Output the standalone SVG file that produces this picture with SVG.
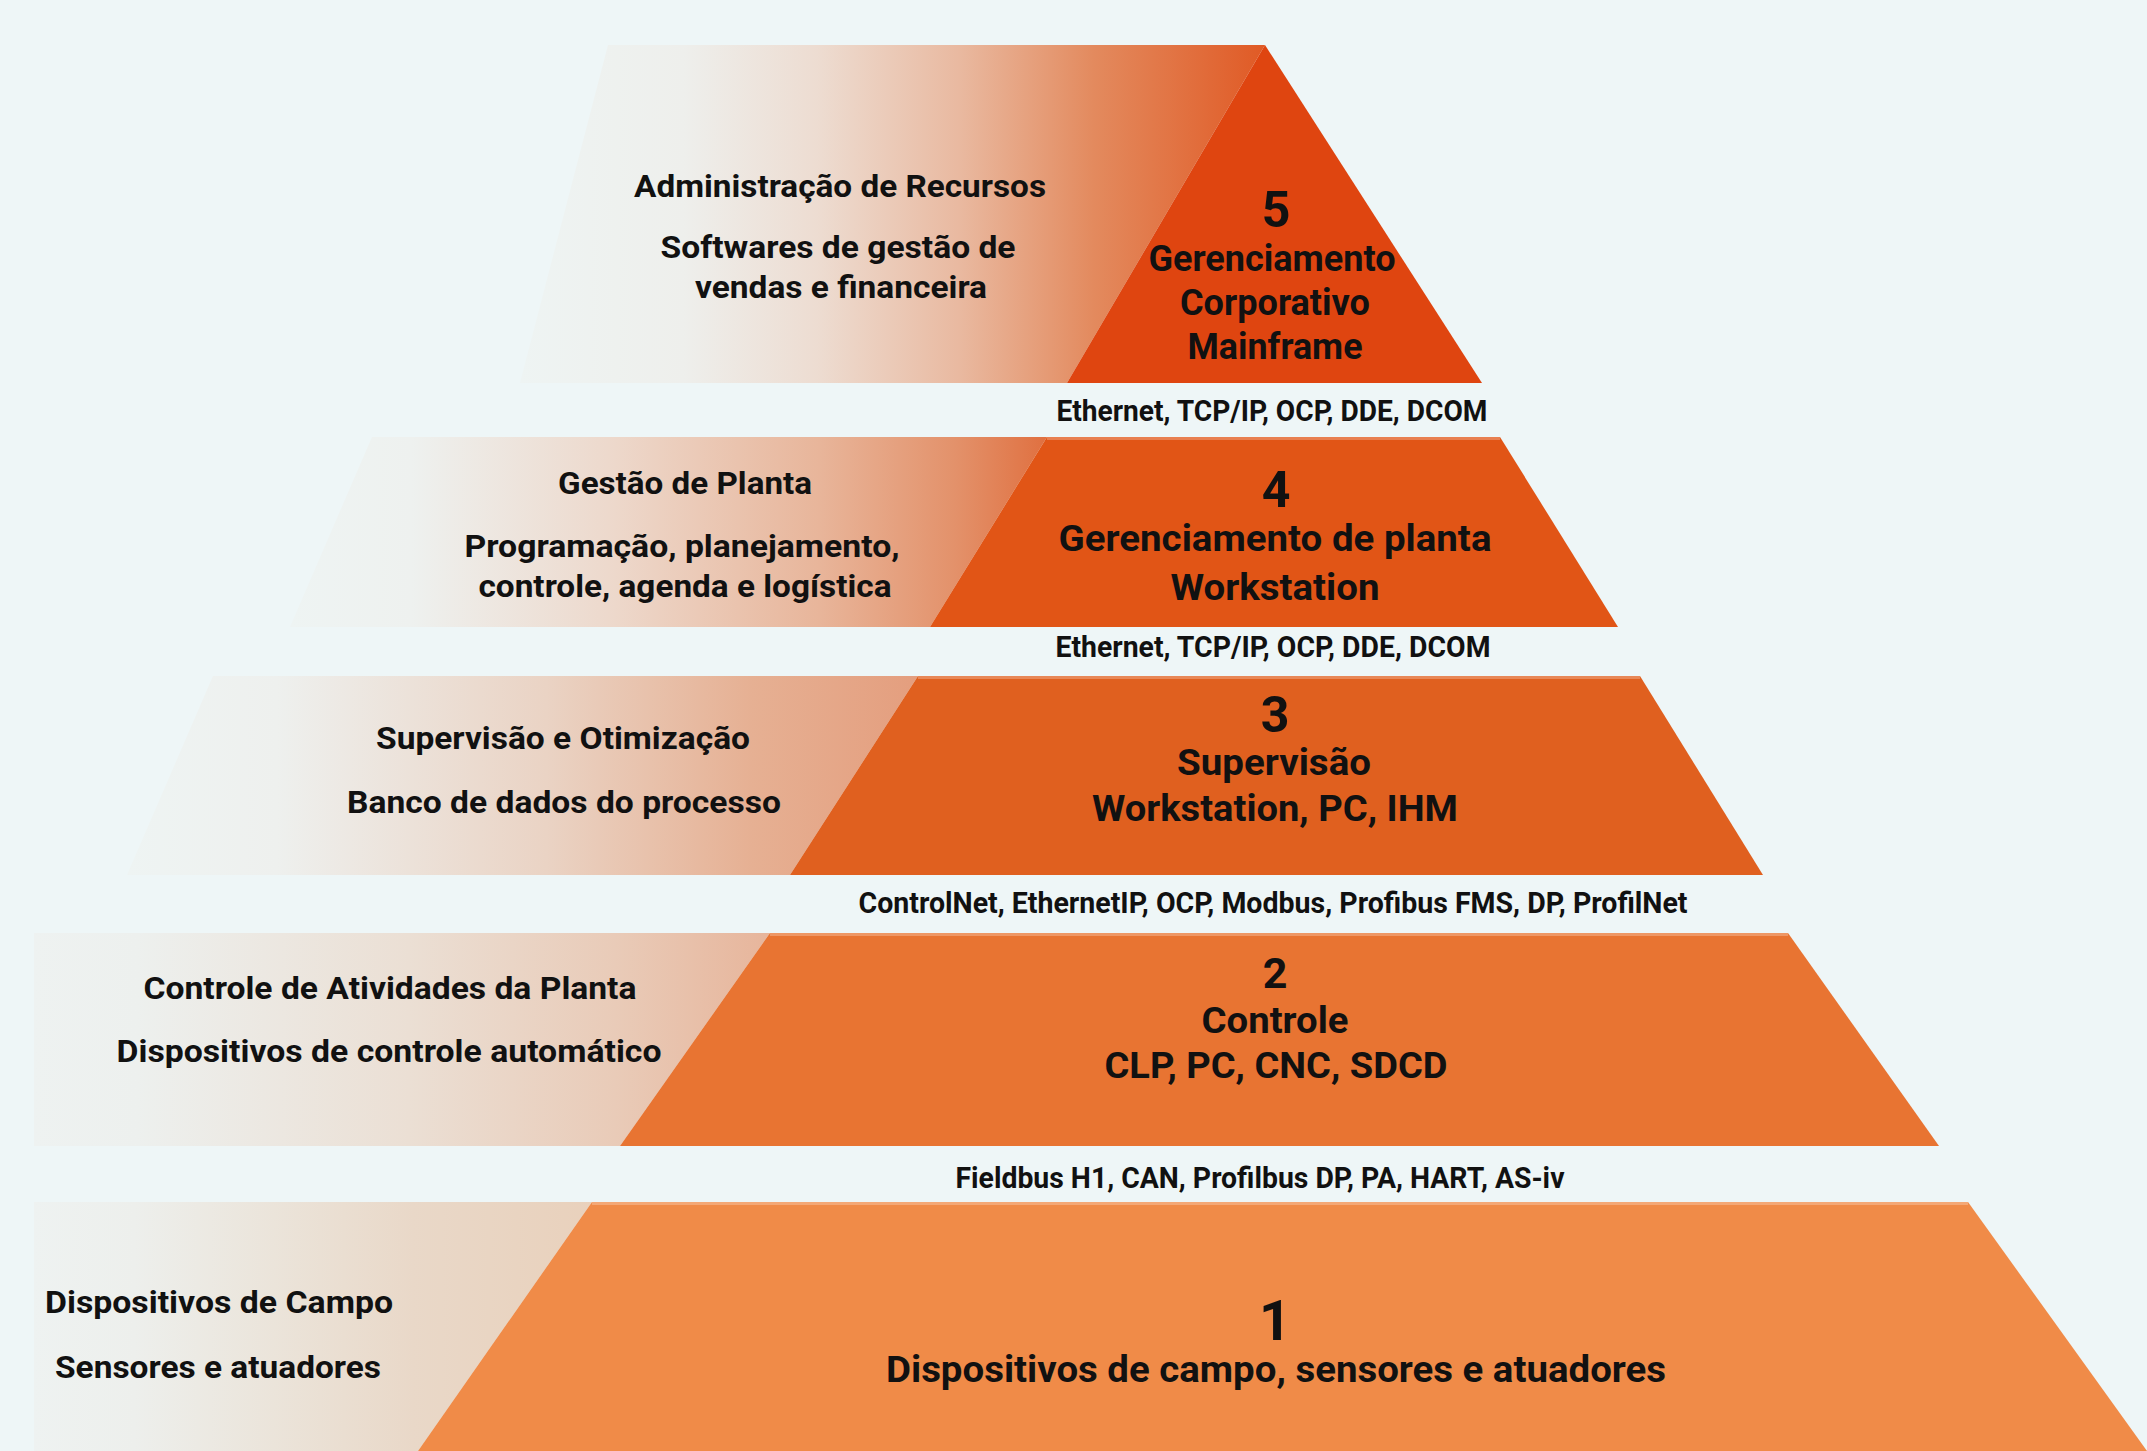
<svg xmlns="http://www.w3.org/2000/svg" width="2147" height="1451" viewBox="0 0 2147 1451">
<defs>
<linearGradient id="g5" gradientUnits="userSpaceOnUse" x1="520" y1="0" x2="1265" y2="0">
<stop offset="0" stop-color="#eef4f3"/><stop offset="0.22" stop-color="#eeefec"/><stop offset="0.40" stop-color="#eddcd1"/><stop offset="0.59" stop-color="#e9b9a0"/><stop offset="0.77" stop-color="#e38a5e"/><stop offset="1" stop-color="#e05a25"/>
</linearGradient>
<linearGradient id="g4" gradientUnits="userSpaceOnUse" x1="290" y1="0" x2="1047" y2="0">
<stop offset="0" stop-color="#eef4f3"/><stop offset="0.16" stop-color="#eef1ef"/><stop offset="0.43" stop-color="#edd8cb"/><stop offset="0.70" stop-color="#e8b59a"/><stop offset="0.88" stop-color="#e3916a"/><stop offset="1" stop-color="#e07040"/>
</linearGradient>
<linearGradient id="g3" gradientUnits="userSpaceOnUse" x1="127" y1="0" x2="918" y2="0">
<stop offset="0" stop-color="#eef4f3"/><stop offset="0.19" stop-color="#eef0ee"/><stop offset="0.53" stop-color="#ead3c4"/><stop offset="0.79" stop-color="#e6b093"/><stop offset="1" stop-color="#e49e7e"/>
</linearGradient>
<linearGradient id="g2" gradientUnits="userSpaceOnUse" x1="34" y1="0" x2="770" y2="0">
<stop offset="0" stop-color="#eef2f1"/><stop offset="0.14" stop-color="#edf0ee"/><stop offset="0.51" stop-color="#ebdfd4"/><stop offset="0.79" stop-color="#e9cbb8"/><stop offset="1" stop-color="#e7b59b"/>
</linearGradient>
<linearGradient id="g1" gradientUnits="userSpaceOnUse" x1="34" y1="0" x2="592" y2="0">
<stop offset="0" stop-color="#eef2f1"/><stop offset="0.18" stop-color="#edefec"/><stop offset="0.43" stop-color="#ebe4da"/><stop offset="0.68" stop-color="#e9d8c8"/><stop offset="1" stop-color="#e9d1bc"/>
</linearGradient>
</defs>
<style>
text { font-family: Roboto, "Liberation Sans", sans-serif; font-weight: 700; fill: #111; text-anchor: middle; }
.side { font-size: 32px; }
.main { font-size: 36px; }
.num { font-size: 50px; }
.proto { font-size: 29px; }
.edge { stroke: #ffffff; stroke-opacity: 0.25; stroke-width: 3; fill: none; }
</style>
<rect x="0" y="0" width="2147" height="1451" fill="#eef6f7"/>

<g id="tier5">
<polygon points="608,45 1265,45 1067,383 520,383" fill="url(#g5)"/>
<polygon points="1265,45 1482,383 1067,383" fill="#df4510"/>
<text class="side" x="840" y="197" textLength="412" lengthAdjust="spacingAndGlyphs">Administração de Recursos</text>
<text class="side" x="838" y="258" textLength="355" lengthAdjust="spacingAndGlyphs">Softwares de gestão de</text>
<text class="side" x="841" y="298" textLength="292" lengthAdjust="spacingAndGlyphs">vendas e financeira</text>
<text class="num" x="1276" y="227">5</text>
<text class="main" x="1272" y="271" textLength="247" lengthAdjust="spacingAndGlyphs">Gerenciamento</text>
<text class="main" x="1275" y="315" textLength="190" lengthAdjust="spacingAndGlyphs">Corporativo</text>
<text class="main" x="1275" y="359" textLength="175" lengthAdjust="spacingAndGlyphs">Mainframe</text>
</g>

<g id="tier4">
<polygon points="372,437 1047,437 930,627 290,627" fill="url(#g4)"/>
<polygon points="1047,437 1500,437 1618,627 930,627" fill="#e15516"/>
<line class="edge" x1="1047" y1="438.5" x2="1500" y2="438.5"/>
<text class="side" x="685" y="494" textLength="254" lengthAdjust="spacingAndGlyphs">Gestão de Planta</text>
<text class="side" x="682" y="557" textLength="435" lengthAdjust="spacingAndGlyphs">Programação, planejamento,</text>
<text class="side" x="685" y="597" textLength="413" lengthAdjust="spacingAndGlyphs">controle, agenda e logística</text>
<text class="num" x="1276" y="507">4</text>
<text class="main" x="1275" y="551" textLength="433" lengthAdjust="spacingAndGlyphs">Gerenciamento de planta</text>
<text class="main" x="1275" y="600" textLength="209" lengthAdjust="spacingAndGlyphs">Workstation</text>
</g>

<g id="tier3">
<polygon points="213,676 918,676 790,875 127,875" fill="url(#g3)"/>
<polygon points="918,676 1640,676 1763,875 790,875" fill="#e0601f"/>
<line class="edge" x1="918" y1="677.5" x2="1640" y2="677.5"/>
<text class="side" x="563" y="749" textLength="374" lengthAdjust="spacingAndGlyphs">Supervisão e Otimização</text>
<text class="side" x="564" y="813" textLength="434" lengthAdjust="spacingAndGlyphs">Banco de dados do processo</text>
<text class="num" x="1275" y="732">3</text>
<text class="main" x="1274" y="775" textLength="194" lengthAdjust="spacingAndGlyphs">Supervisão</text>
<text class="main" x="1275" y="821" textLength="366" lengthAdjust="spacingAndGlyphs">Workstation, PC, IHM</text>
</g>

<g id="tier2">
<polygon points="34,933 770,933 620,1146 34,1146" fill="url(#g2)"/>
<polygon points="770,933 1788,933 1939,1146 620,1146" fill="#e87432"/>
<line class="edge" x1="770" y1="934.5" x2="1788" y2="934.5"/>
<text class="side" x="390" y="999" textLength="493" lengthAdjust="spacingAndGlyphs">Controle de Atividades da Planta</text>
<text class="side" x="389" y="1062" textLength="545" lengthAdjust="spacingAndGlyphs">Dispositivos de controle automático</text>
<text x="1275" y="988" style="font-size:43px">2</text>
<text class="main" x="1275" y="1033" textLength="147" lengthAdjust="spacingAndGlyphs">Controle</text>
<text class="main" x="1276" y="1078" textLength="343" lengthAdjust="spacingAndGlyphs">CLP, PC, CNC, SDCD</text>
</g>

<g id="tier1">
<polygon points="34,1202 592,1202 418,1451 34,1451" fill="url(#g1)"/>
<polygon points="592,1202 1968,1202 2147,1451 418,1451" fill="#f08b48"/>
<line class="edge" x1="592" y1="1203.5" x2="1968" y2="1203.5"/>
<text class="side" x="219" y="1313" textLength="348" lengthAdjust="spacingAndGlyphs">Dispositivos de Campo</text>
<text class="side" x="218" y="1378" textLength="326" lengthAdjust="spacingAndGlyphs">Sensores e atuadores</text>
<text x="1275" y="1340" style="font-size:56px">1</text>
<text class="main" x="1276" y="1382" textLength="780" lengthAdjust="spacingAndGlyphs">Dispositivos de campo, sensores e atuadores</text>
</g>

<g id="protocols">
<text class="proto" x="1272" y="421" textLength="431" lengthAdjust="spacingAndGlyphs">Ethernet, TCP/IP, OCP, DDE, DCOM</text>
<text class="proto" x="1273" y="657" textLength="435" lengthAdjust="spacingAndGlyphs">Ethernet, TCP/IP, OCP, DDE, DCOM</text>
<text class="proto" x="1273" y="913" textLength="829" lengthAdjust="spacingAndGlyphs">ControlNet, EthernetIP, OCP, Modbus, Profibus FMS, DP, ProfilNet</text>
<text class="proto" x="1260" y="1188" textLength="609" lengthAdjust="spacingAndGlyphs">Fieldbus H1, CAN, Profilbus DP, PA, HART, AS-iv</text>
</g>
</svg>
